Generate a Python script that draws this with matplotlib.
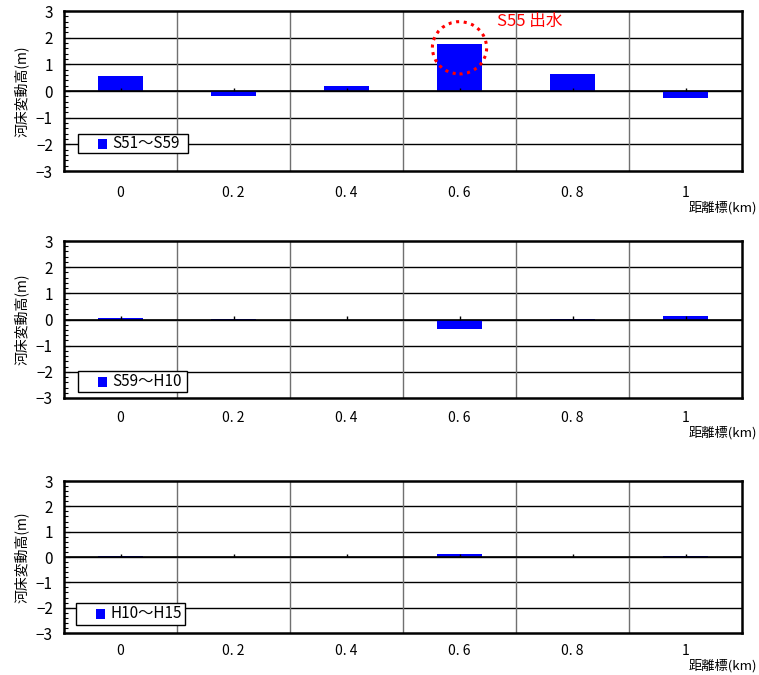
import matplotlib
matplotlib.use('Agg')
import matplotlib.pyplot as plt
from matplotlib.patches import Ellipse, Rectangle
from matplotlib.ticker import MultipleLocator

plt.rcParams['font.family'] = ['Noto Sans CJK JP', 'DejaVu Sans']

categories = ['0', '0. 2', '0. 4', '0. 6', '0. 8', '1']
series_names = ['S51～S59', 'S59～H10', 'H10～H15']
s51_s59 = [0.58, -0.18, 0.20, 1.78, 0.64, -0.25]
s59_h10 = [0.04, 0.01, 0.0, -0.35, 0.03, 0.15]
h10_h15 = [0.03, -0.01, -0.01, 0.10, -0.01, 0.03]
series_values = [s51_s59, s59_h10, h10_h15]

# axes boxes in pixels: (top, bottom)
boxes = [(11, 171), (241, 398), (481, 633)]
# legend boxes in pixels: (left, top, right, bottom)
leg_boxes = [(78, 134, 188, 153), (78, 371, 187, 392), (76, 603, 185, 625)]
# x tick label pad (pt) and pixel offset of the x-axis title below each panel
tick_pads = [11, 9, 8]
title_offsets = [37, 35, 33]
W, H = 759, 675
left, right = 64, 742
BLUE = '#0000ff'

fig = plt.figure(figsize=(W / 100, H / 100), dpi=100)

for (top, bottom), lb, tpad, toff, name, vals in zip(boxes, leg_boxes, tick_pads,
                                                     title_offsets, series_names,
                                                     series_values):
    aw, ah = right - left, bottom - top
    ax = fig.add_axes([left / W, 1 - bottom / H, aw / W, ah / H])
    xs = list(range(len(categories)))
    ax.bar(xs, vals, width=0.4, color=BLUE, zorder=3)
    ax.set_xlim(-0.5, len(categories) - 0.5)
    ax.set_ylim(-3, 3)

    # gridlines
    for y in range(-2, 3):
        ax.axhline(y, color='black', lw=1.0, zorder=1)
    for x in xs[:-1]:
        ax.axvline(x + 0.5, color='#707070', lw=1.0, zorder=1)
    # small category ticks on the zero line
    ax.vlines(xs, 0, 0.12, color='black', lw=1.0, zorder=4)
    ax.axhline(0, color='black', lw=1.2, zorder=4)

    for sp in ax.spines.values():
        sp.set_linewidth(1.8)
        sp.set_color('black')

    ax.set_xticks(xs)
    ax.set_xticklabels(categories, fontsize=10)
    ax.tick_params(axis='x', length=0, pad=tpad)
    ax.set_yticks(range(-3, 4))
    ax.set_yticklabels(['−3', '−2', '−1', '0', '1', '2', '3'], fontsize=11)
    ax.yaxis.set_minor_locator(MultipleLocator(0.2))
    ax.tick_params(axis='y', which='major', direction='in', length=4, pad=8)
    ax.tick_params(axis='y', which='minor', direction='in', length=3, width=0.8)
    ax.set_ylabel('河床変動高(m)', fontsize=10, labelpad=5)

    # legend box
    lx0, ly0 = (lb[0] - left) / aw, (bottom - lb[3]) / ah
    lw_, lh_ = (lb[2] - lb[0]) / aw, (lb[3] - lb[1]) / ah
    ax.add_patch(Rectangle((lx0, ly0), lw_, lh_, transform=ax.transAxes,
                           facecolor='white', edgecolor='black', lw=1.0, zorder=6))
    ax.add_patch(Rectangle((lx0 + 20 / aw, ly0 + lh_ / 2 - 5 / ah), 9 / aw, 10 / ah,
                           transform=ax.transAxes, facecolor=BLUE, edgecolor='none',
                           zorder=7))
    ax.text(lx0 + 34 / aw, ly0 + lh_ / 2, name, transform=ax.transAxes,
            fontsize=11, ha='left', va='center', zorder=7)

    ax.text((757 - left) / aw, -toff / ah, '距離標(km)', transform=ax.transAxes,
            fontsize=9.5, ha='right', va='center')

    if name == 'S51～S59':
        ax.add_patch(Ellipse((3, 1.62), 0.48, 1.96, fill=False, edgecolor='red',
                             linestyle=(0, (1, 1.5)), lw=2.2, zorder=6))
        ax.text(3.33, 2.6, 'S55 出水', color='red', fontsize=12, ha='left', va='center')

fig.savefig('out.png', dpi=100)
